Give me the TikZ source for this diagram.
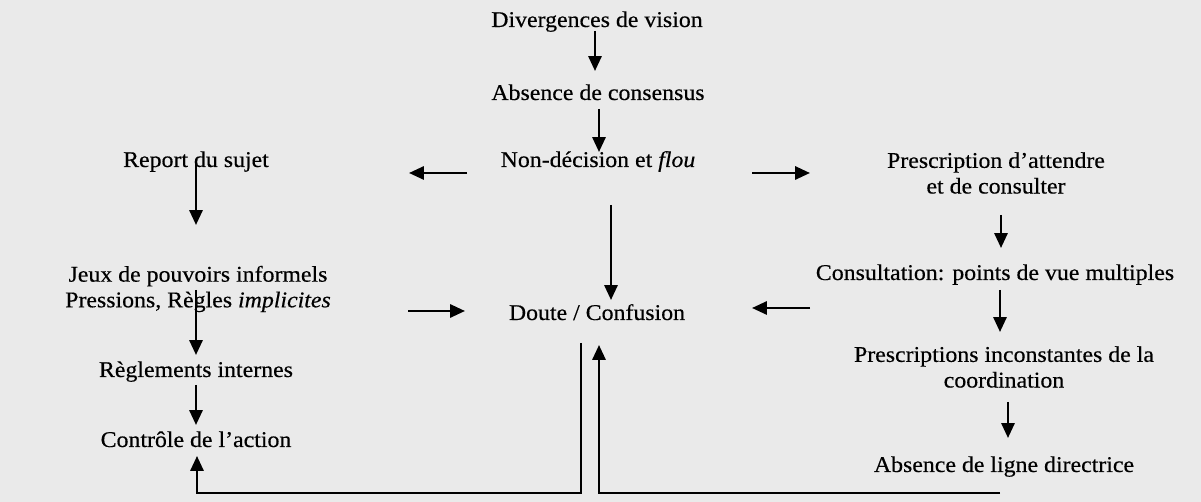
\documentclass[tikz,border=0pt]{standalone}
\usepackage{fontspec}
\setmainfont[FakeStretch=1.06,FakeBold=0.4]{Liberation Serif}
\usetikzlibrary{arrows.meta,calc}
\definecolor{bgc}{RGB}{234,234,234}
\begin{document}
\begin{tikzpicture}[x=0.02cm,y=-0.02cm,
  lbl/.style={font=\fontsize{12.8}{14.6}\selectfont, inner sep=0pt, align=center},
  arr/.style={line width=1.4pt, -{Triangle[length=8.5pt,width=7.5pt]}},
  ln/.style={line width=1.4pt}]
\fill[bgc] (0,0) rectangle (1201,502);
\useasboundingbox (0,0) rectangle (1201,502);
% nodes
\node[lbl,anchor=base] (div) at (597,27) {Divergences de vision};
\node[lbl,anchor=base] (abs) at (598,100) {Absence de consensus};
\node[lbl,anchor=base] (nond) at (598,167) {Non-décision et \textit{flou}};
\node[lbl,anchor=base] (report) at (196,167) {Report du sujet};
\node[lbl] (presc) at (996,173) {Prescription d’attendre\\et de consulter};
\node[lbl] (jeux) at (198,289) {Jeux de pouvoirs informels\\Pressions, Règles \textit{implicites}};
\node[lbl,anchor=base] (regl) at (196,377) {Règlements internes};
\node[lbl,anchor=base] (ctrl) at (196,447) {Contrôle de l’action};
\node[lbl,anchor=base] (doute) at (597,320) {Doute / Confusion};
\node[lbl,anchor=base] (consult) at (995,280) {Consultation: points de vue multiples};
\node[lbl] (pinc) at (1004,367) {Prescriptions inconstantes de la\\coordination};
\node[lbl,anchor=base] (ald) at (1004,472) {Absence de ligne directrice};
% arrows
\draw[arr] ($(div.base)+(-2,4)$) -- ($(abs.base)+(-3,-29)$);
\draw[arr] ($(abs.base)+(1,9)$) -- ($(nond.base)+(1,-15)$);
\draw[arr] ($(nond.base)+(-131,6)$) -- ($(report.base)+(213,6)$);
\draw[arr] ($(nond.base)+(154,6)$) -- ($(presc)+(-186,0)$);
\draw[arr] ($(report.base)+(0,-5)$) -- ($(jeux)+(-2,-64)$);
\draw[arr] ($(presc)+(5,42)$) -- ($(consult.base)+(6,-32)$);
\draw[arr] ($(jeux)+(-2,1)$) -- ($(regl.base)+(0,-22)$);
\draw[arr] ($(regl.base)+(0,8)$) -- ($(ctrl.base)+(0,-22)$);
\draw[arr] ($(nond.base)+(13,38)$) -- ($(doute.base)+(14,-20)$);
\draw[arr] ($(jeux)+(210,22)$) -- ($(doute.base)+(-132,-9)$);
\draw[arr] ($(consult.base)+(-185,28)$) -- ($(doute.base)+(155,-12)$);
\draw[arr] ($(consult.base)+(5,10)$) -- ($(pinc)+(-4,-35)$);
\draw[arr] ($(pinc)+(4,35)$) -- ($(ald.base)+(4,-34)$);
% feedback loops
\draw[arr] ($(doute.base)+(-16,23)$) |- ($(ctrl.base)+(1,46)$) -- ($(ctrl.base)+(1,9)$);
\draw[arr] ($(ald.base)+(-4,21)$) -| ($(doute.base)+(2,25)$);
\end{tikzpicture}
\end{document}
